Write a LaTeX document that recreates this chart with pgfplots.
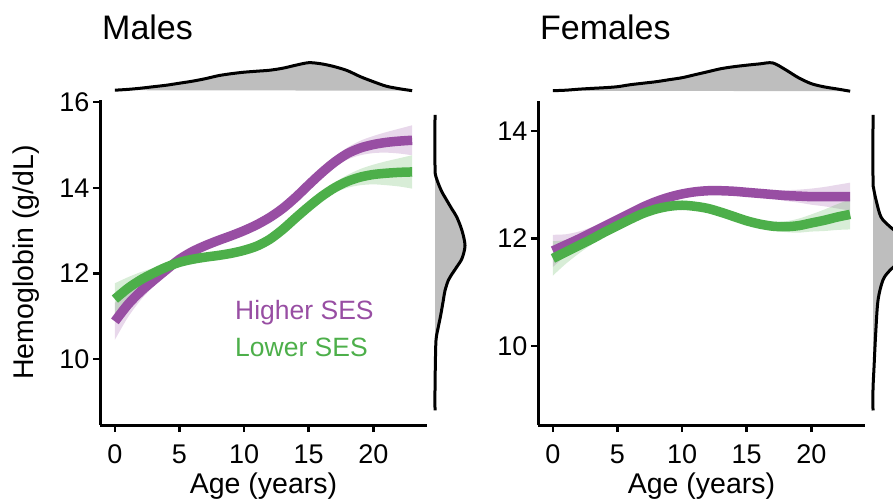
\documentclass[border=0pt]{standalone}
\usepackage{pgfplots}
\pgfplotsset{compat=1.18}
\usepgfplotslibrary{fillbetween}
\usepackage{pgfplotstable}
\usepackage{fontspec}
\setmainfont{Liberation Sans}
\definecolor{hiC}{RGB}{152,78,163}
\definecolor{loC}{RGB}{77,175,74}
\definecolor{dens}{RGB}{190,190,190}

% Males, Higher SES: age, mean, half-width of band
\pgfplotstableread{
x m d
0 10.88 0.43
1 11.27 0.30
2 11.58 0.20
3 11.84 0.14
4 12.09 0.11
5 12.33 0.09
6 12.51 0.09
7 12.65 0.09
8 12.77 0.09
9 12.88 0.09
10 13.00 0.09
11 13.14 0.09
12 13.31 0.09
13 13.52 0.09
14 13.78 0.09
15 14.07 0.09
16 14.35 0.10
17 14.60 0.12
18 14.80 0.14
19 14.93 0.17
20 15.01 0.20
21 15.06 0.24
22 15.09 0.29
23 15.11 0.35
}\mh
% Males, Lower SES
\pgfplotstableread{
x m d
0 11.40 0.37
1 11.65 0.26
2 11.85 0.18
3 12.01 0.12
4 12.15 0.10
5 12.26 0.08
6 12.33 0.08
7 12.38 0.08
8 12.42 0.08
9 12.47 0.08
10 12.54 0.08
11 12.64 0.08
12 12.80 0.08
13 13.03 0.08
14 13.30 0.08
15 13.56 0.08
16 13.80 0.10
17 14.00 0.12
18 14.15 0.15
19 14.25 0.19
20 14.31 0.23
21 14.34 0.28
22 14.36 0.33
23 14.37 0.39
}\ml
% Females, Higher SES
\pgfplotstableread{
x m d
0 11.77 0.30
1 11.88 0.20
2 11.99 0.14
3 12.11 0.10
4 12.23 0.07
5 12.35 0.07
6 12.47 0.07
7 12.59 0.07
8 12.69 0.07
9 12.77 0.07
10 12.83 0.07
11 12.87 0.07
12 12.89 0.07
13 12.89 0.07
14 12.88 0.07
15 12.86 0.07
16 12.84 0.07
17 12.82 0.08
18 12.80 0.10
19 12.79 0.12
20 12.78 0.15
21 12.78 0.18
22 12.78 0.22
23 12.78 0.26
}\fh
% Females, Lower SES
\pgfplotstableread{
x m d
0 11.63 0.32
1 11.75 0.22
2 11.87 0.15
3 11.99 0.10
4 12.12 0.07
5 12.24 0.07
6 12.36 0.07
7 12.47 0.07
8 12.55 0.07
9 12.60 0.07
10 12.62 0.07
11 12.60 0.07
12 12.56 0.07
13 12.49 0.07
14 12.41 0.07
15 12.33 0.07
16 12.27 0.07
17 12.23 0.08
18 12.22 0.10
19 12.24 0.13
20 12.29 0.16
21 12.34 0.20
22 12.40 0.24
23 12.45 0.28
}\fl
% top marginal densities (age, height in px)
\pgfplotstableread{
x h
0 1.5
1 2.3
2 3.5
3 5
4 6.5
5 8.5
6 10.5
7 13
8 16
9 18
10 19.5
11 20.5
12 21.5
13 23.5
14 26.5
15 29
16 27.8
17 25
18 21
19 15
20 10
21 5.5
22 3
23 1
}\mtop
\pgfplotstableread{
x h
0 1
1 1.5
2 2.5
3 3.3
4 4
5 5
6 7
7 8.5
8 10
9 12
10 14
11 17
12 20
13 23
14 25
15 26.5
16 27.8
17 28.8
18 22
19 14
20 8
21 4.8
22 2.7
23 0.5
}\ftop
% right marginal densities (height in px, hemoglobin)
\pgfplotstableread{
h y
0 8.8
0 9.3
0.3 9.8
1 10.44
3.3 10.75
5.5 11.0
8.3 11.37
10 11.6
13.3 11.84
16 11.95
21.7 12.15
27 12.35
30 12.65
27 13.0
21.7 13.32
17 13.5
11.7 13.71
7 13.9
3.3 14.1
0.5 14.3
0 14.5
0 15.7
}\mright
\pgfplotstableread{
h y
0 8.8
0 9.2
1 9.6
2.7 10.24
5 10.85
10 11.23
17 11.41
28 11.6
35 11.85
28 12.05
17 12.22
8 12.4
3 12.72
0.5 12.95
0 13.1
0 14.3
}\fright

\pgfplotsset{
  main/.style={scale only axis, width=327pt, anchor=south west,
    axis lines=left, axis line style={-, line width=3pt, black},
    xmin=-1.15, xmax=24.15, xtick={0,5,10,15,20},
    tick align=outside, major tick length=7pt,
    tick style={line width=2.5pt, black},
    /pgf/number format/assume math mode=true,
    ticklabel style={font=\fontsize{27}{27}\selectfont, text=black},
    xticklabel style={yshift=-9pt},
    xlabel={Age (years)},
    every axis x label/.style={at={(axis description cs:0.5,0)}, yshift=-68pt, anchor=base,
      font=\fontsize{28.5}{28.5}\selectfont},
    every axis y label/.style={at={(axis description cs:0,0.5)}, xshift=-74pt, rotate=90, anchor=center,
      font=\fontsize{28.5}{28.5}\selectfont},
  },
  marg/.style={scale only axis, anchor=south west, hide axis},
  band/.style={fill=#1, fill opacity=0.22, draw=none},
}

\begin{document}
\begin{tikzpicture}

% ---------------- Males ----------------
\begin{axis}[main, at={(100pt,73pt)}, height=325pt,
  ymin=8.46, ymax=16.05, ytick={10,12,14,16},
  ylabel={Hemoglobin (g/dL)}]
  \addplot[draw=none, smooth, name path=mhU] table[x=x, y expr=\thisrow{m}+\thisrow{d}]{\mh};
  \addplot[draw=none, smooth, name path=mhL] table[x=x, y expr=\thisrow{m}-\thisrow{d}]{\mh};
  \addplot[band=hiC] fill between[of=mhU and mhL];
  \addplot[draw=none, smooth, name path=mlU] table[x=x, y expr=\thisrow{m}+\thisrow{d}]{\ml};
  \addplot[draw=none, smooth, name path=mlL] table[x=x, y expr=\thisrow{m}-\thisrow{d}]{\ml};
  \addplot[band=loC] fill between[of=mlU and mlL];
  \addplot[hiC, line width=9.5pt, smooth] table[x=x, y=m]{\mh};
  \addplot[loC, line width=9.5pt, smooth] table[x=x, y=m]{\ml};
\end{axis}
\begin{axis}[marg, at={(100pt,406.3pt)}, width=327pt, height=35pt,
  xmin=-1.15, xmax=24.15, ymin=0, ymax=35, clip=false]
  \addplot[fill=dens, draw=none, smooth] table[x=x, y=h]{\mtop};
  \addplot[black, line width=3pt, smooth] table[x=x, y=h]{\mtop};
\end{axis}
\begin{axis}[marg, at={(435pt,73pt)}, width=40pt, height=325pt,
  xmin=0, xmax=40, ymin=8.46, ymax=16.05, clip=false]
  \addplot[fill=dens, draw=none, smooth] table[x=h, y=y]{\mright};
  \addplot[black, line width=3pt, smooth] table[x=h, y=y]{\mright};
\end{axis}

% ---------------- Females ----------------
\begin{axis}[main, at={(538pt,73pt)}, height=324pt,
  ymin=8.53, ymax=14.56, ytick={10,12,14}]
  \addplot[draw=none, smooth, name path=fhU] table[x=x, y expr=\thisrow{m}+\thisrow{d}]{\fh};
  \addplot[draw=none, smooth, name path=fhL] table[x=x, y expr=\thisrow{m}-\thisrow{d}]{\fh};
  \addplot[band=hiC] fill between[of=fhU and fhL];
  \addplot[draw=none, smooth, name path=flU] table[x=x, y expr=\thisrow{m}+\thisrow{d}]{\fl};
  \addplot[draw=none, smooth, name path=flL] table[x=x, y expr=\thisrow{m}-\thisrow{d}]{\fl};
  \addplot[band=loC] fill between[of=flU and flL];
  \addplot[hiC, line width=9.5pt, smooth] table[x=x, y=m]{\fh};
  \addplot[loC, line width=9.5pt, smooth] table[x=x, y=m]{\fl};
\end{axis}
\begin{axis}[marg, at={(538pt,406.3pt)}, width=327pt, height=35pt,
  xmin=-1.15, xmax=24.15, ymin=0, ymax=35, clip=false]
  \addplot[fill=dens, draw=none, smooth] table[x=x, y=h]{\ftop};
  \addplot[black, line width=3pt, smooth] table[x=x, y=h]{\ftop};
\end{axis}
\begin{axis}[marg, at={(868pt,73pt)}, width=25pt, height=324pt,
  xmin=-5, xmax=20, ymin=8.53, ymax=14.56, clip=true]
  \addplot[fill=dens, draw=none, smooth] table[x=h, y=y]{\fright};
  \addplot[black, line width=3pt, smooth] table[x=h, y=y]{\fright};
\end{axis}

% titles and labels
\node[anchor=base west, inner sep=0pt, font=\fontsize{34}{34}\selectfont] at (102pt,458pt) {Males};
\node[anchor=base west, inner sep=0pt, font=\fontsize{34}{34}\selectfont] at (540pt,458pt) {Females};
\node[anchor=base west, inner sep=0pt, text=hiC, font=\fontsize{26.5}{26.5}\selectfont] at (235pt,178pt) {Higher SES};
\node[anchor=base west, inner sep=0pt, text=loC, font=\fontsize{26.5}{26.5}\selectfont] at (235pt,142pt) {Lower SES};

\pgfresetboundingbox
\path (0pt,0pt) rectangle (893pt,498pt);
\end{tikzpicture}
\end{document}
